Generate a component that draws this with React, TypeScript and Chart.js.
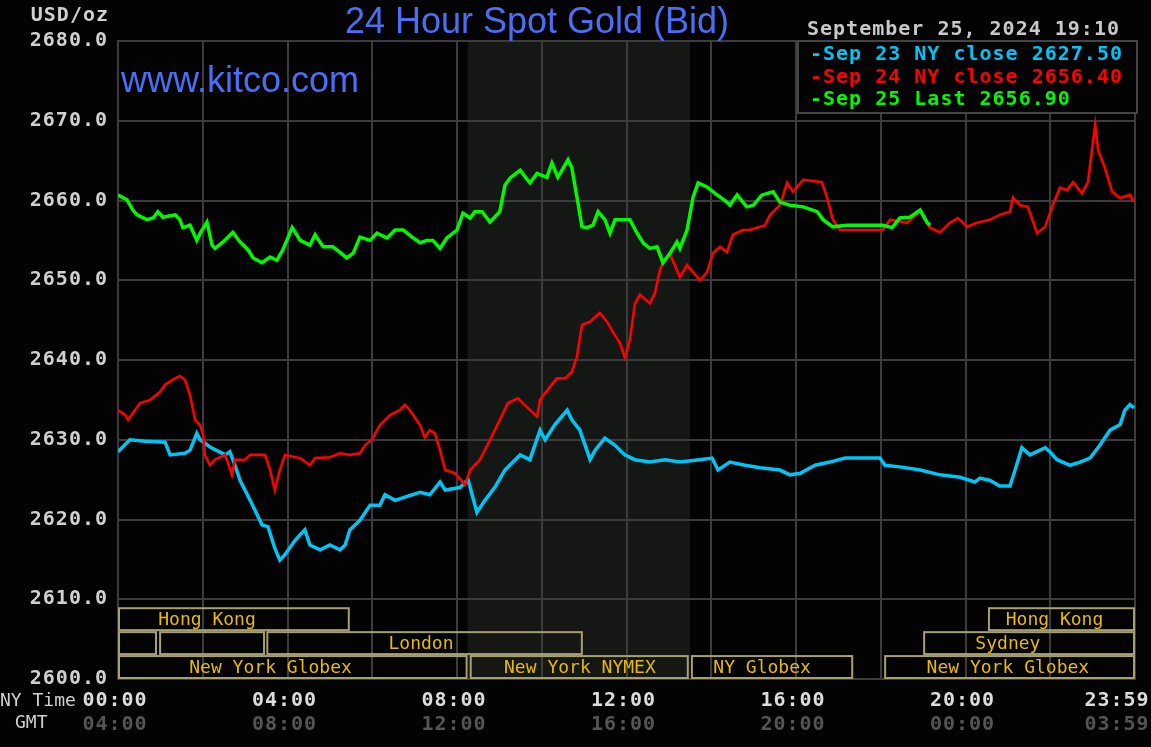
import React, { useEffect, useRef } from 'react';
import { Chart, registerables } from 'chart.js';

Chart.register(...registerables);

// ---------- data (NY time in hours, price in USD/oz) ----------
const sep23Hours = [0, 0.28, 0.64, 1.11, 1.23, 1.58, 1.7, 1.86, 1.94, 2.17, 2.53, 2.64, 2.76, 2.88, 3.12, 3.4, 3.54, 3.7, 3.82, 3.94, 4.18, 4.3, 4.41, 4.53, 4.77, 5.0, 5.24, 5.36, 5.47, 5.71, 5.95, 6.18, 6.3, 6.54, 6.77, 7.13, 7.36, 7.6, 7.72, 8.07, 8.26, 8.47, 8.66, 8.9, 9.13, 9.49, 9.72, 9.96, 10.08, 10.31, 10.6, 10.71, 10.9, 11.14, 11.26, 11.49, 11.73, 11.96, 12.2, 12.55, 12.91, 13.26, 13.73, 14.02, 14.16, 14.44, 14.8, 15.15, 15.62, 15.86, 16.1, 16.45, 16.8, 17.16, 17.98, 18.1, 18.45, 18.93, 19.4, 19.87, 20.22, 20.34, 20.58, 20.81, 21.05, 21.17, 21.33, 21.52, 21.76, 21.88, 21.99, 22.16, 22.47, 22.7, 22.94, 23.17, 23.41, 23.65, 23.76, 23.88, 23.98];
const sep23Values = [2628.5, 2630.0, 2629.8, 2629.7, 2628.1, 2628.3, 2628.7, 2630.8, 2630.0, 2629.1, 2628.1, 2628.5, 2626.8, 2624.9, 2622.4, 2619.3, 2619.1, 2616.4, 2614.9, 2615.6, 2617.4, 2618.1, 2618.7, 2616.8, 2616.2, 2616.8, 2616.2, 2616.8, 2618.7, 2619.9, 2621.8, 2621.8, 2623.1, 2622.4, 2622.8, 2623.4, 2623.1, 2624.7, 2623.7, 2624.0, 2625.0, 2620.9, 2622.4, 2624.1, 2626.2, 2628.1, 2627.5, 2631.2, 2630.0, 2631.9, 2633.7, 2632.5, 2631.2, 2627.5, 2628.7, 2630.2, 2629.3, 2628.1, 2627.5, 2627.2, 2627.5, 2627.2, 2627.5, 2627.7, 2626.2, 2627.2, 2626.8, 2626.5, 2626.2, 2625.6, 2625.8, 2626.8, 2627.2, 2627.7, 2627.7, 2626.8, 2626.6, 2626.2, 2625.6, 2625.3, 2624.7, 2625.2, 2624.9, 2624.2, 2624.2, 2626.2, 2629.0, 2628.1, 2628.7, 2629.0, 2628.5, 2627.5, 2626.8, 2627.2, 2627.7, 2629.3, 2631.2, 2631.9, 2633.7, 2634.4, 2634.0];

const sep24Hours = [0, 0.17, 0.24, 0.4, 0.52, 0.76, 0.99, 1.11, 1.35, 1.46, 1.58, 1.7, 1.82, 1.94, 2.01, 2.05, 2.17, 2.29, 2.53, 2.69, 2.76, 3.0, 3.12, 3.47, 3.59, 3.7, 3.82, 3.94, 4.3, 4.53, 4.65, 5.0, 5.24, 5.47, 5.71, 5.83, 5.99, 6.18, 6.42, 6.65, 6.77, 6.89, 7.13, 7.24, 7.36, 7.48, 7.6, 7.72, 7.95, 8.19, 8.31, 8.54, 8.78, 9.01, 9.2, 9.44, 9.65, 9.89, 9.96, 10.19, 10.36, 10.55, 10.71, 10.83, 10.95, 11.14, 11.37, 11.54, 11.68, 11.85, 11.96, 12.08, 12.2, 12.32, 12.55, 12.67, 12.79, 12.86, 13.03, 13.26, 13.43, 13.62, 13.73, 13.9, 14.04, 14.21, 14.37, 14.51, 14.75, 14.91, 15.27, 15.39, 15.62, 15.79, 15.93, 16.17, 16.61, 16.73, 16.87, 17.04, 18.05, 18.22, 18.62, 18.93, 19.16, 19.4, 19.63, 19.82, 20.04, 20.27, 20.58, 20.81, 21.05, 21.12, 21.29, 21.47, 21.69, 21.88, 22.06, 22.23, 22.4, 22.54, 22.75, 22.89, 23.06, 23.13, 23.29, 23.46, 23.65, 23.88, 23.98];
const sep24Values = [2633.7, 2633.1, 2632.5, 2633.7, 2634.6, 2635.0, 2636.0, 2636.9, 2637.7, 2638.0, 2637.5, 2635.6, 2632.5, 2631.8, 2630.6, 2628.1, 2626.8, 2627.5, 2628.1, 2625.6, 2627.5, 2627.5, 2628.1, 2628.1, 2626.2, 2623.7, 2626.2, 2628.1, 2627.7, 2626.8, 2627.7, 2627.8, 2628.3, 2628.1, 2628.3, 2629.3, 2630.0, 2631.8, 2633.1, 2633.7, 2634.4, 2633.7, 2631.8, 2630.3, 2631.2, 2630.8, 2628.7, 2626.2, 2625.8, 2624.3, 2626.2, 2627.5, 2630.0, 2632.5, 2634.6, 2635.2, 2634.1, 2632.9, 2635.0, 2636.6, 2637.7, 2637.7, 2638.5, 2640.4, 2644.4, 2644.8, 2645.9, 2644.8, 2643.5, 2642.1, 2640.3, 2642.5, 2647.1, 2648.2, 2647.1, 2648.4, 2651.3, 2652.2, 2653.2, 2650.4, 2651.9, 2650.7, 2650.0, 2651.0, 2653.4, 2654.2, 2653.5, 2655.7, 2656.3, 2656.3, 2656.9, 2658.2, 2659.4, 2662.2, 2661.1, 2662.6, 2662.3, 2660.4, 2657.6, 2656.3, 2656.3, 2657.6, 2657.2, 2658.6, 2656.6, 2656.0, 2657.2, 2657.8, 2656.7, 2657.2, 2657.6, 2658.2, 2658.6, 2660.4, 2659.4, 2659.2, 2655.9, 2656.7, 2659.4, 2661.6, 2661.3, 2662.3, 2660.9, 2662.3, 2669.5, 2666.3, 2664.1, 2661.1, 2660.3, 2660.7, 2659.8];

const sep25Hours = [0, 0.21, 0.35, 0.45, 0.68, 0.83, 0.94, 1.06, 1.35, 1.46, 1.53, 1.7, 1.86, 1.94, 2.1, 2.22, 2.29, 2.48, 2.71, 2.88, 3.07, 3.19, 3.4, 3.59, 3.75, 3.89, 4.11, 4.3, 4.53, 4.65, 4.84, 5.07, 5.24, 5.4, 5.55, 5.71, 5.95, 6.11, 6.35, 6.54, 6.73, 6.94, 7.13, 7.29, 7.43, 7.6, 7.76, 8.0, 8.14, 8.31, 8.42, 8.59, 8.78, 9.01, 9.13, 9.25, 9.49, 9.72, 9.89, 10.12, 10.24, 10.38, 10.62, 10.71, 10.83, 10.95, 11.07, 11.21, 11.33, 11.49, 11.61, 11.73, 12.08, 12.25, 12.39, 12.55, 12.72, 12.86, 13.03, 13.19, 13.26, 13.43, 13.57, 13.69, 13.9, 14.09, 14.37, 14.44, 14.61, 14.84, 14.99, 15.2, 15.46, 15.62, 15.86, 16.17, 16.5, 16.64, 16.87, 17.2, 18.05, 18.27, 18.45, 18.69, 18.93, 19.1, 19.17];
const sep25Values = [2660.7, 2660.1, 2658.8, 2658.2, 2657.6, 2657.8, 2658.6, 2657.9, 2658.2, 2657.6, 2656.6, 2656.9, 2655.0, 2655.9, 2657.3, 2654.4, 2654.0, 2654.8, 2656.0, 2654.8, 2653.8, 2652.8, 2652.2, 2652.9, 2652.5, 2653.8, 2656.6, 2655.0, 2654.4, 2655.7, 2654.2, 2654.2, 2653.5, 2652.8, 2653.4, 2655.4, 2655.0, 2655.9, 2655.3, 2656.3, 2656.3, 2655.4, 2654.7, 2655.0, 2655.0, 2654.0, 2655.3, 2656.3, 2658.4, 2657.8, 2658.6, 2658.6, 2657.3, 2658.6, 2661.9, 2662.8, 2663.8, 2662.2, 2663.4, 2662.9, 2664.7, 2662.9, 2665.1, 2664.1, 2660.4, 2656.7, 2656.6, 2656.9, 2658.6, 2657.6, 2655.9, 2657.6, 2657.6, 2655.9, 2654.7, 2654.0, 2654.2, 2652.2, 2653.4, 2654.8, 2654.0, 2656.3, 2660.4, 2662.2, 2661.7, 2660.9, 2659.8, 2659.4, 2660.7, 2659.2, 2659.4, 2660.7, 2661.1, 2659.8, 2659.4, 2659.2, 2658.6, 2657.6, 2656.7, 2656.9, 2656.9, 2656.6, 2657.8, 2657.9, 2658.8, 2657.2, 2656.9];

const legendTexts = ['-Sep 23 NY close 2627.50', '-Sep 24 NY close 2656.40', '-Sep 25 Last 2656.90'];
const seriesColors = ['#00c4f4', '#ff0000', '#00f800'];

const timeTickHours = [0, 4, 8, 12, 16, 20, 23.983];
const nyTimeLabels = ['00:00', '04:00', '08:00', '12:00', '16:00', '20:00', '23:59'];
const gmtLabels = ['04:00', '08:00', '12:00', '16:00', '20:00', '00:00', '03:59'];

const nymexShade = [8.25, 13.5];

// market sessions: row (0 = top), start hour, end hour, label, label-centre hour
const sessionRows = [0, 0, 1, 1, 1, 1, 2, 2, 2, 2];
const sessionStarts = [0, 20.53, 0, 0.97, 3.5, 19.0, 0, 8.3, 13.52, 18.08];
const sessionEnds = [5.47, 24, 0.92, 3.47, 10.97, 24, 8.25, 13.47, 17.35, 24];
const sessionLabels = ['Hong Kong', 'Hong Kong', '', '', 'London', 'Sydney', 'New York Globex', 'New York NYMEX', 'NY Globex', 'New York Globex'];
const sessionLabelAt = [2.1, 22.1, 0, 0, 7.15, 21.0, 3.6, 10.9, 15.2, 21.0];
const sessionRowValues = [2609, 2606, 2603, 2600];

const titleText = '24 Hour Spot Gold (Bid)';
const siteText = 'www.kitco.com';
const dateText = 'September 25, 2024 19:10';

const MONO = '"DejaVu Sans Mono", "Liberation Mono", monospace';
const SANS = '"Liberation Sans", Arial, sans-serif';

const toPoints = (hs: number[], vs: number[]) => hs.map((h, i) => ({ x: h, y: vs[i] }));

const backgroundPlugin = {
  id: 'kitcoBackground',
  beforeDraw(chart: any) {
    const { ctx, chartArea, scales } = chart;
    ctx.save();
    ctx.fillStyle = '#030303';
    ctx.fillRect(0, 0, chart.width, chart.height);
    const x0 = scales.x.getPixelForValue(nymexShade[0]);
    const x1 = scales.x.getPixelForValue(nymexShade[1]);
    ctx.fillStyle = '#151715';
    ctx.fillRect(x0, chartArea.top, x1 - x0, chartArea.bottom - chartArea.top);
    ctx.restore();
    ctx.letterSpacing = '1px';
  },
};

const sessionsPlugin = {
  id: 'kitcoSessions',
  afterDatasetsDraw(chart: any) {
    const { ctx, scales } = chart;
    const xs = scales.x;
    const ys = scales.y;
    ctx.save();
    ctx.letterSpacing = '0px';
    ctx.strokeStyle = '#a6a070';
    ctx.lineWidth = 2;
    ctx.font = `18px ${MONO}`;
    ctx.textAlign = 'center';
    ctx.textBaseline = 'middle';
    sessionRows.forEach((row, i) => {
      const top = ys.getPixelForValue(sessionRowValues[row]);
      const bottom = ys.getPixelForValue(sessionRowValues[row + 1]);
      const left = xs.getPixelForValue(sessionStarts[i]);
      const right = xs.getPixelForValue(sessionEnds[i]);
      ctx.strokeRect(left + 1, top + 1, right - left - 2, bottom - top - 2);
      if (sessionLabels[i]) {
        ctx.fillStyle = '#e8bc00';
        ctx.fillText(sessionLabels[i], xs.getPixelForValue(sessionLabelAt[i]), (top + bottom) / 2 + 1);
      }
    });
    ctx.restore();
  },
};

const textPlugin = {
  id: 'kitcoText',
  afterDraw(chart: any) {
    const { ctx, scales, chartArea } = chart;
    ctx.save();
    // title & site
    ctx.letterSpacing = '0px';
    ctx.fillStyle = '#4b6ef5';
    ctx.font = `36px ${SANS}`;
    ctx.textAlign = 'center';
    ctx.textBaseline = 'alphabetic';
    ctx.fillText(titleText, 537, 33);
    ctx.textAlign = 'left';
    ctx.fillText(siteText, 121, 92);

    // axis unit
    ctx.letterSpacing = '1px';
    ctx.font = `bold 20px ${MONO}`;
    ctx.fillStyle = '#d0d0d0';
    ctx.textAlign = 'right';
    ctx.textBaseline = 'middle';
    ctx.fillText('USD/oz', 109, 16);

    // date
    ctx.textAlign = 'left';
    ctx.fillStyle = '#c8c8c8';
    ctx.fillText(dateText, 807, 30);

    // legend box
    const lx = 798;
    const ly = chartArea.top;
    ctx.fillStyle = '#030303';
    ctx.fillRect(lx, ly, 1137 - lx, 113 - ly);
    ctx.strokeStyle = '#444444';
    ctx.lineWidth = 2;
    ctx.strokeRect(lx, ly, 1137 - lx, 113 - ly);
    legendTexts.forEach((t, i) => {
      ctx.fillStyle = seriesColors[i];
      ctx.fillText(t, 810, 55 + i * 22.5);
    });

    // time labels
    ctx.textAlign = 'center';
    timeTickHours.forEach((h, i) => {
      let cx = scales.x.getPixelForValue(h) - 3;
      if (cx + 33 > 1150) cx = 1150 - 33;
      ctx.font = `bold 20px ${MONO}`;
      ctx.fillStyle = '#dcdcdc';
      ctx.fillText(nyTimeLabels[i], cx, 701);
      ctx.fillStyle = '#555555';
      ctx.fillText(gmtLabels[i], cx, 725);
    });
    ctx.letterSpacing = '0px';
    ctx.font = `18px ${MONO}`;
    ctx.fillStyle = '#d0d0d0';
    ctx.textAlign = 'left';
    ctx.fillText('NY Time', 0, 701);
    ctx.fillText('GMT', 15, 723);
    ctx.restore();
    ctx.letterSpacing = '0px';
  },
};

export default function App() {
  const canvasRef = useRef<HTMLCanvasElement | null>(null);

  useEffect(() => {
    if (!canvasRef.current) return;
    const gridColor = '#3c3c3c';
    const chart = new Chart(canvasRef.current, {
      type: 'line',
      data: {
        datasets: [
          {
            label: 'Sep 25',
            data: toPoints(sep25Hours, sep25Values),
            borderColor: seriesColors[2],
            borderWidth: 3.5,
            pointRadius: 0,
            tension: 0,
            order: 0,
          },
          {
            label: 'Sep 24',
            data: toPoints(sep24Hours, sep24Values),
            borderColor: seriesColors[1],
            borderWidth: 2.6,
            pointRadius: 0,
            tension: 0,
            order: 1,
          },
          {
            label: 'Sep 23',
            data: toPoints(sep23Hours, sep23Values),
            borderColor: seriesColors[0],
            borderWidth: 3.5,
            pointRadius: 0,
            tension: 0,
            order: 2,
          },
        ],
      },
      options: {
        responsive: false,
        animation: false,
        devicePixelRatio: 1,
        layout: { padding: { top: 41, right: 16, left: 0, bottom: 0 } },
        plugins: { legend: { display: false }, tooltip: { enabled: false } },
        scales: {
          x: {
            type: 'linear',
            min: 0,
            max: 24,
            ticks: { display: false, stepSize: 2 },
            grid: { color: gridColor, lineWidth: 2, drawTicks: false },
            border: { display: true, color: gridColor, width: 2 },
            afterFit: (scale: any) => {
              scale.height = 68;
            },
          },
          y: {
            min: 2600,
            max: 2680,
            ticks: {
              stepSize: 10,
              padding: 10,
              color: '#d0d0d0',
              font: { family: MONO, size: 20, weight: 'bold' },
              callback: (v: any) => Number(v).toFixed(1),
            },
            grid: { color: gridColor, lineWidth: 2, drawTicks: false },
            border: { display: true, color: gridColor, width: 2 },
            afterFit: (scale: any) => {
              scale.width = 118;
            },
          },
        },
      } as any,
      plugins: [backgroundPlugin, sessionsPlugin, textPlugin],
    });
    return () => chart.destroy();
  }, []);

  return (
    <div style={{ position: 'fixed', left: 0, top: 0, width: 1151, height: 747, background: '#030303' }}>
      <canvas ref={canvasRef} width={1151} height={747} style={{ display: 'block' }} />
    </div>
  );
}
